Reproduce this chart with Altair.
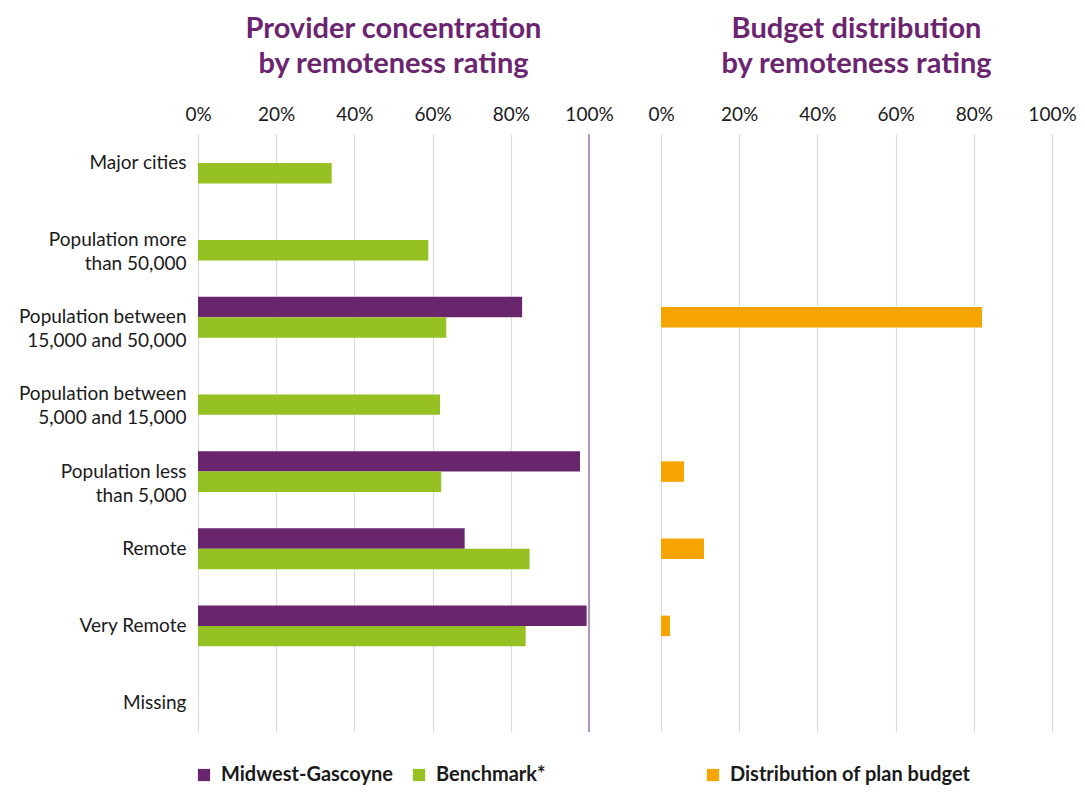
import altair as alt
import pandas as pd

FONT = "Lato"
PURPLE = "#6a266c"
GREEN = "#95c123"
ORANGE = "#f5a400"
TITLE_PURPLE = "#6b2470"
TEXT = "#1a1a1a"
GRID = "#dcdcdc"

categories = [
    "Major cities",
    "Population more\nthan 50,000",
    "Population between\n15,000 and 50,000",
    "Population between\n5,000 and 15,000",
    "Population less\nthan 5,000",
    "Remote",
    "Very Remote",
    "Missing",
]
series = ["Midwest-Gascoyne", "Benchmark*"]
midwest = [None, None, 0.829, None, 0.977, 0.682, 0.994, None]
benchmark = [0.342, 0.589, 0.635, 0.619, 0.622, 0.848, 0.838, None]
budget_label = "Distribution of plan budget"
budget = [None, None, 0.821, None, 0.059, 0.110, 0.023, None]
ticks = [0, 0.2, 0.4, 0.6, 0.8, 1.0]

rows = []
for c, m, b in zip(categories, midwest, benchmark):
    rows.append({"cat": c, "series": series[0], "value": m})
    rows.append({"cat": c, "series": series[1], "value": b})
left_df = pd.DataFrame(rows)
right_df = pd.DataFrame({"cat": categories, "series": [budget_label] * len(categories), "value": budget})
ref_df = pd.DataFrame({"x": [1.0]})

W, H = 391, 598

yscale = alt.Scale(domain=categories, paddingInner=0.47, paddingOuter=0.11)
xscale = alt.Scale(domain=[0, 1], nice=False)


def xaxis():
    return alt.Axis(
        orient="top", values=ticks, format=".0%", title=None, domain=False, ticks=False,
        labelFontSize=19, labelColor=TEXT, labelFont=FONT, labelPadding=10,
        grid=True, gridColor=GRID, gridWidth=1.2, labelFlush=False,
    )


def title(lines):
    return alt.Title(
        lines, fontSize=29, font=FONT, fontWeight="bold", color=TITLE_PURPLE,
        anchor="middle", lineHeight=35, offset=26,
    )


def legend(x):
    return alt.Legend(
        title=None, orient="none", legendX=x, legendY=H + 33, direction="horizontal",
        symbolType="square", symbolSize=150, symbolStrokeWidth=0,
        labelFontSize=20, labelFont=FONT, labelFontWeight="bold", labelColor=TEXT,
        labelOffset=7, columnPadding=16, labelLimit=500,
    )


left_bars = alt.Chart(left_df).mark_bar().encode(
    y=alt.Y(
        "cat:N", scale=yscale, sort=categories,
        axis=alt.Axis(
            title=None, domain=False, ticks=False, labelExpr="split(datum.label, '\\n')",
            labelFontSize=19, labelFont=FONT, labelColor=TEXT, labelPadding=12,
            labelLineHeight=24, labelLimit=300,
        ),
    ),
    yOffset=alt.YOffset("series:N", sort=series, scale=alt.Scale(domain=series, paddingInner=0, paddingOuter=0)),
    x=alt.X("value:Q", scale=xscale, axis=xaxis()),
    color=alt.Color("series:N", scale=alt.Scale(domain=series, range=[PURPLE, GREEN]), legend=legend(-4)),
)

ref_rule = alt.Chart(ref_df).mark_rule(color="#a27cb6", strokeWidth=1.6).encode(
    x=alt.X("x:Q", scale=xscale)
)

left = alt.layer(left_bars, ref_rule).properties(
    width=W, height=H, title=title(["Provider concentration", "by remoteness rating"])
)

right = alt.Chart(right_df).mark_bar(size=20.5).encode(
    y=alt.Y("cat:N", scale=yscale, sort=categories, axis=None),
    x=alt.X("value:Q", scale=xscale, axis=xaxis()),
    color=alt.Color("series:N", scale=alt.Scale(domain=[budget_label], range=[ORANGE]), legend=legend(42)),
).properties(width=W, height=H, title=title(["Budget distribution", "by remoteness rating"]))

chart = (
    alt.hconcat(left, right, spacing=33)
    .resolve_scale(color="independent", y="shared")
    .resolve_legend(color="independent")
    .properties(padding={"left": 10, "top": 7, "right": 0, "bottom": 0})
    .configure_view(stroke=None)
)

chart.save("out.html", embed_options={"renderer": "svg", "actions": False})
